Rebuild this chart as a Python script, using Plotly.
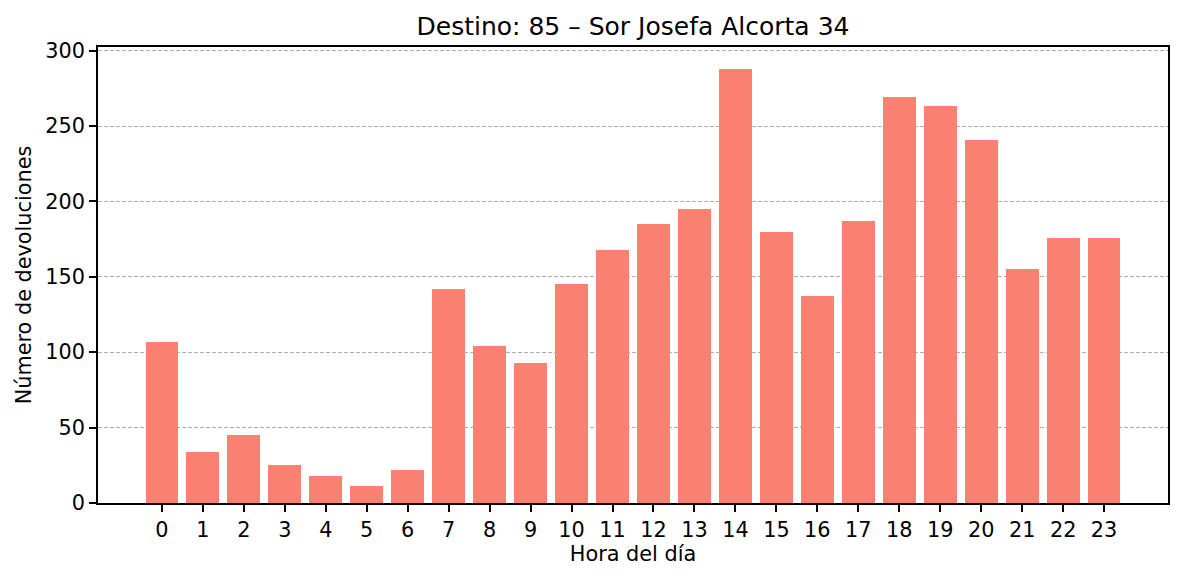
import plotly.graph_objects as go

horas = list(range(24))
devoluciones = [107, 34, 45, 25, 18, 11, 22, 142, 104, 93, 145, 168, 185, 195,
                288, 180, 137, 187, 269, 263, 241, 155, 176, 176]
titulo = "Destino: 85 – Sor Josefa Alcorta 34"

fig = go.Figure(go.Bar(x=horas, y=devoluciones, width=0.8,
                       marker=dict(color="#FA8072", line=dict(width=0))))

fig.update_layout(
    width=1184, height=581,
    margin=dict(l=98, r=16, t=47, b=78),
    paper_bgcolor="white", plot_bgcolor="white",
    font=dict(family="DejaVu Sans", size=20.8, color="black"),
    title=dict(text=titulo, x=633/1184, xanchor="center", y=1 - 26/581, yanchor="middle",
               font=dict(size=25)),
    showlegend=False,
    bargap=0,
)
fig.update_xaxes(
    range=[-1.56, 24.56], tickmode="array", tickvals=horas,
    ticktext=[str(h) for h in horas],
    showgrid=False, zeroline=False,
    showline=True, linecolor="black", linewidth=1.6, mirror=True,
    ticks="outside", ticklen=7, tickwidth=1.6, tickcolor="black",
    title=dict(text="Hora del día", font=dict(size=20.8), standoff=6),
)
fig.update_yaxes(
    range=[0, 302.4], tickmode="array", tickvals=[0, 50, 100, 150, 200, 250, 300],
    showgrid=True, gridcolor="#b0b0b0", gridwidth=1, griddash="4px,2px",
    zeroline=False,
    showline=True, linecolor="black", linewidth=1.6, mirror=True,
    ticks="outside", ticklen=7, tickwidth=1.6, tickcolor="black",
    title=dict(text="Número de devoluciones", font=dict(size=20.8), standoff=8),
)

fig.write_html("out.html")
